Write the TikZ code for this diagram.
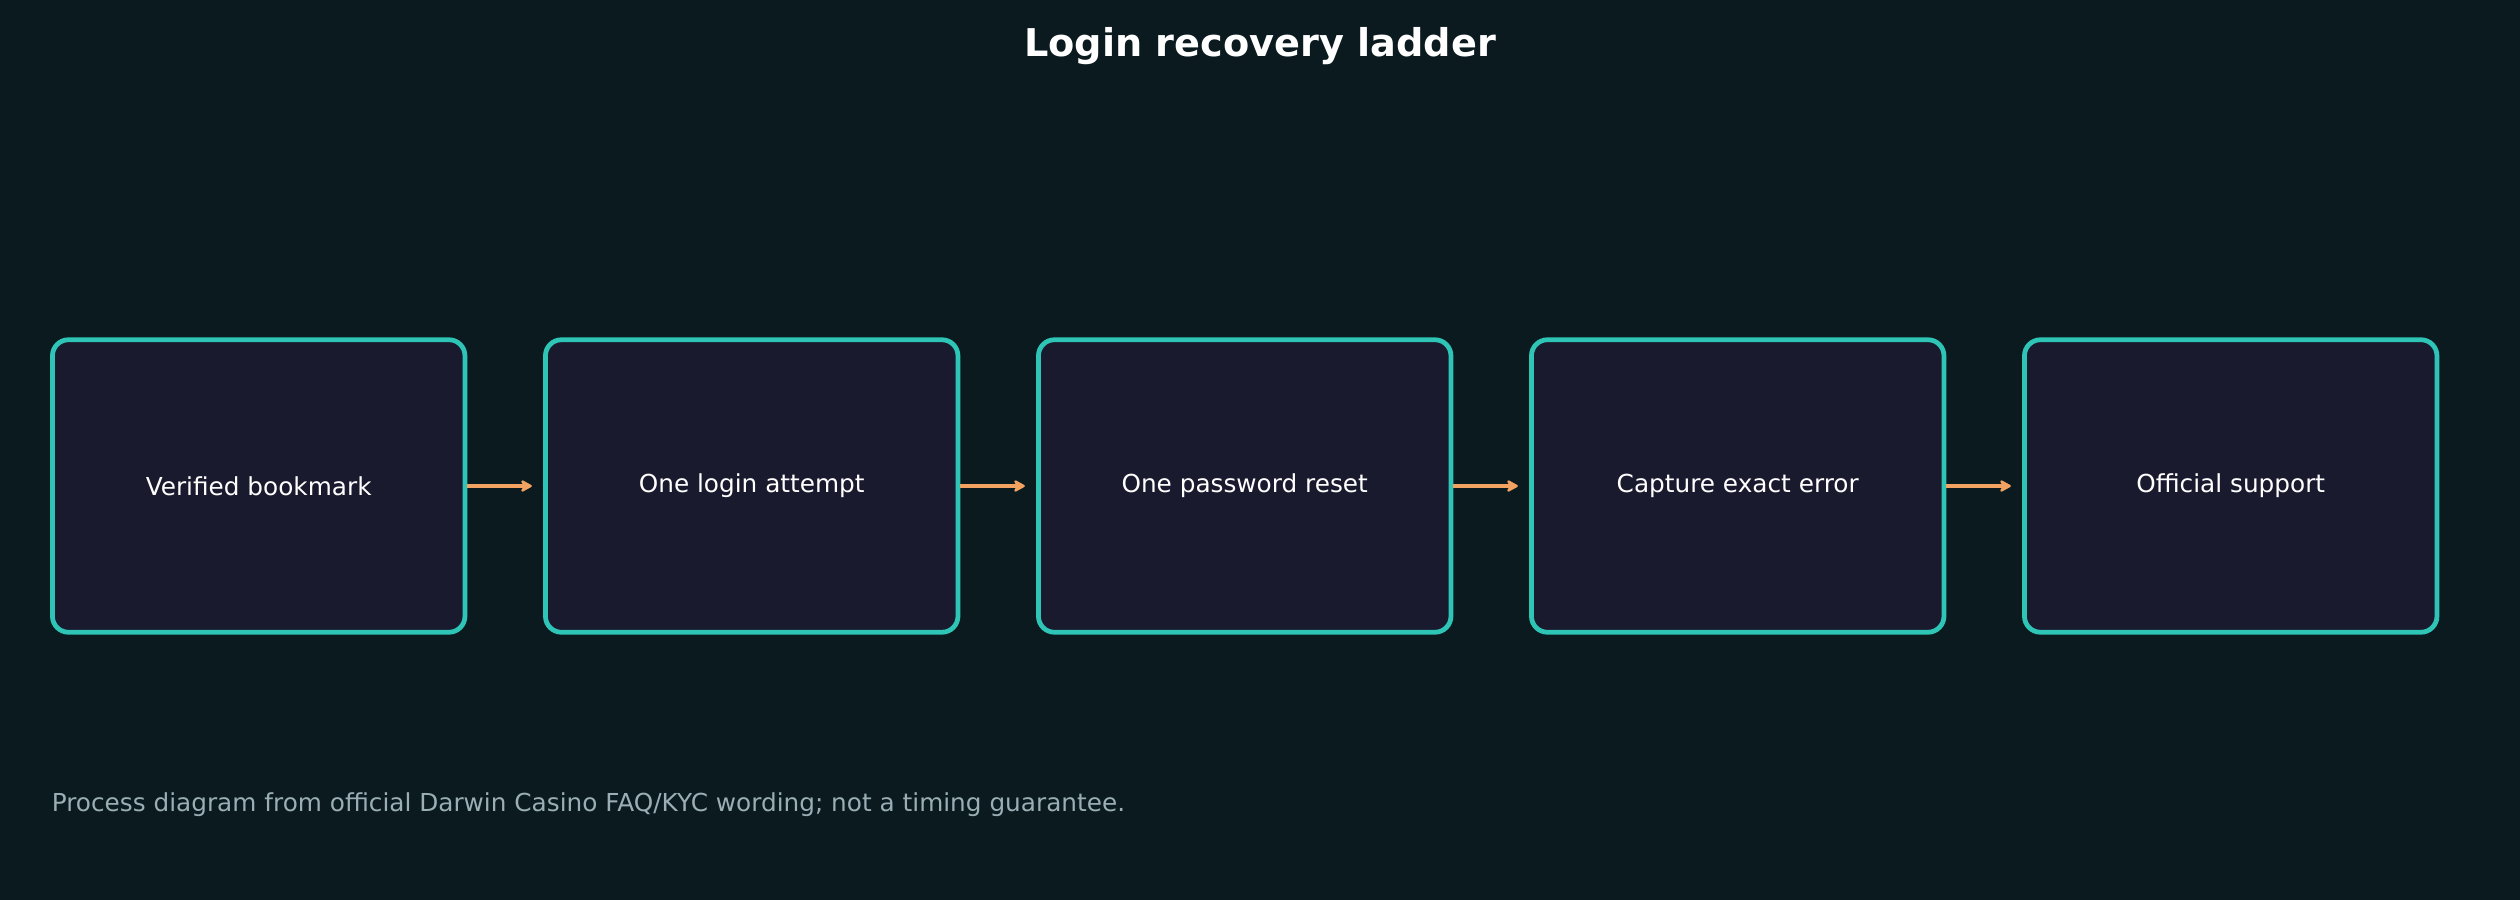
\documentclass[tikz,border=0pt]{standalone}
\usepackage{fontspec}
\setmainfont{DejaVu Sans}
\usepackage{tikz}
\usetikzlibrary{arrows.meta}

\definecolor{bgdark}{HTML}{0B1A1F}
\definecolor{boxfill}{HTML}{1A1A2E}
\definecolor{teal}{HTML}{2EC4B6}
\definecolor{orng}{HTML}{F4A261}
\definecolor{notegray}{HTML}{9AAEB4}

\begin{document}
\begin{tikzpicture}
		[x=0.4pt,y=-0.4pt,
		 s/.style= {rounded corners=6.4pt,line width=1.9pt,draw=teal,fill=boxfill,
			minimum width=165pt,minimum height=117pt,text=white,font=\fontsize{9.9}{11}\selectfont},
		 a/.style= {-{Stealth[round,length=5.5pt,width=6pt,inset=1.8pt]},line width=1.6pt,draw=orng,shorten >=4.5pt}]

		\fill[bgdark] (0,0) rectangle (2520,900);
		\useasboundingbox (0,0) rectangle (2520,900);

		\node[text=white,font=\bfseries\fontsize{15.3}{18}\selectfont] (title) at (1260,46) {Login recovery ladder}
		;

		\node[s] (s0) at (258.7,486) {Verified bookmark}
		;

		\node[s] (s1) at (751.7,486) {One login attempt}
		;
		\draw[a] (s0) -- (s1);

		\node[s] (s2) at (1244.7,486) {One password reset}
		;
		\draw[a] (s1) -- (s2);

		\node[s] (s3) at (1737.7,486) {Capture exact error}
		;
		\draw[a] (s2) -- (s3);

		\node[s] (s4) at (2230.7,486) {Official support}
		;
		\draw[a] (s3) -- (s4);

		\node[anchor=west,text=notegray,font=\fontsize{9.9}{11}\selectfont] (note) at (43,805)
			{Process diagram from official Darwin Casino FAQ/KYC wording; not a timing guarantee.}
		;

	\end{tikzpicture}
\end{document}
